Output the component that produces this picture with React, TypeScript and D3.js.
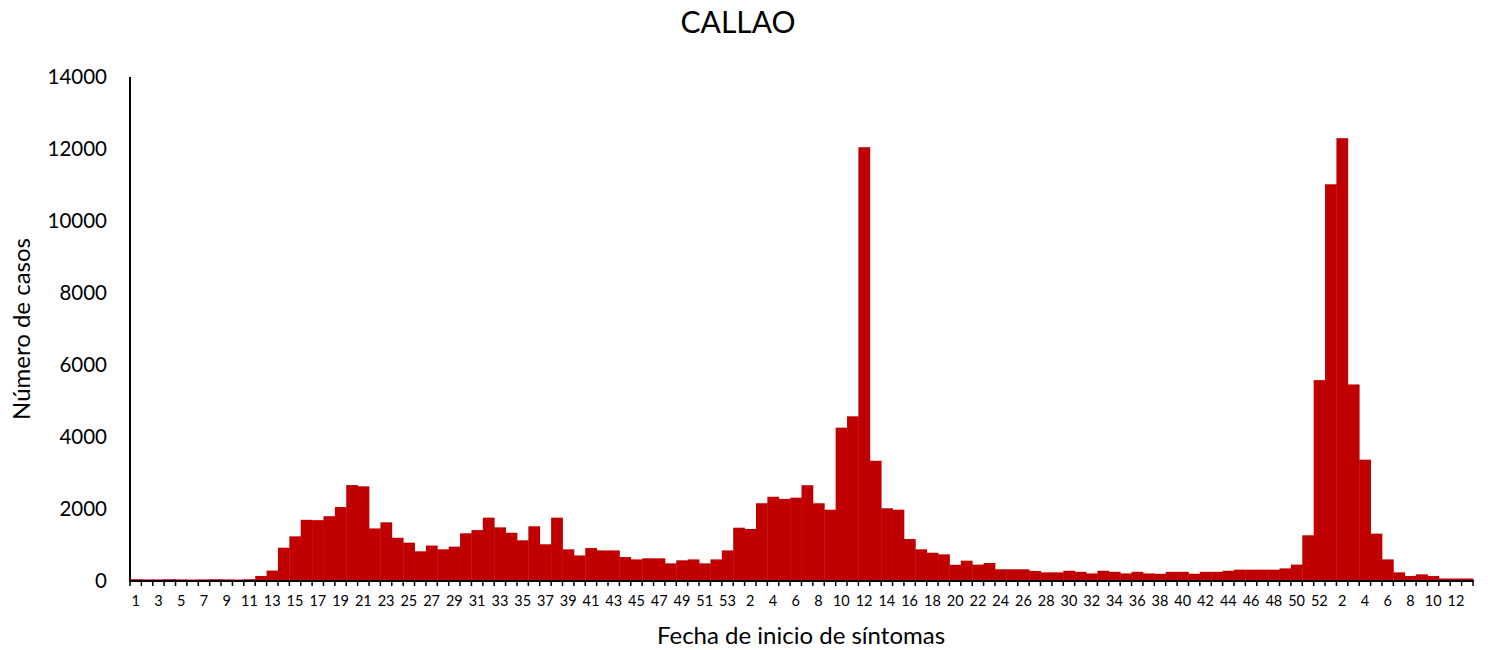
import * as d3 from 'd3';

// Weekly cases by epi week
const CASES_2020 = [
  50, 45, 45, 50, 45, 40, 45, 50, 45, 40, 50, 140, 290, 925, 1240, 1700, 1690, 1800, 2055, 2665,
  2630, 1460, 1630, 1200, 1065, 825, 985, 880, 955, 1325, 1415, 1760, 1490, 1340, 1130, 1520, 1020,
  1760, 880, 710, 915, 850, 850, 665, 600, 630, 630, 490, 575, 600, 490, 600, 850,
];
const CASES_2021 = [
  1480, 1445, 2160, 2340, 2280, 2315, 2660, 2160, 1980, 4260, 4575, 12050, 3340, 2020, 1980, 1165,
  880, 785, 740, 450, 565, 455, 500, 325, 325, 325, 280, 240, 240, 285, 255, 210, 285, 255, 210,
  255, 210, 200, 255, 255, 200, 255, 255, 285, 315, 315, 315, 315, 350, 455, 1270, 5580,
];
const CASES_2022 = [11020, 12300, 5460, 3370, 1315, 600, 240, 140, 185, 140, 70, 70, 70];

const Y_TICKS = [0, 2000, 4000, 6000, 8000, 10000, 12000, 14000];

const TITLE = 'CALLAO';
const Y_LABEL = 'Número de casos';
const X_LABEL = 'Fecha de inicio de síntomas';

const WIDTH = 1488;
const HEIGHT = 650;
const MARGIN = { top: 77, right: 15, bottom: 69, left: 130 };
const FONT = 'Lato, "Open Sans", sans-serif';
const BAR_COLOR = '#c00000';

interface WeekDatum {
  key: string;
  year: number;
  week: number;
  cases: number;
}

const weeks: WeekDatum[] = [
  ...CASES_2020.map((cases, i) => ({ key: `2020-${i + 1}`, year: 2020, week: i + 1, cases })),
  ...CASES_2021.map((cases, i) => ({ key: `2021-${i + 1}`, year: 2021, week: i + 1, cases })),
  ...CASES_2022.map((cases, i) => ({ key: `2022-${i + 1}`, year: 2022, week: i + 1, cases })),
];

// 2020 labels odd weeks, later years label even weeks
const showLabel = (d: WeekDatum) => (d.year === 2020 ? d.week % 2 === 1 : d.week % 2 === 0);

export default function App() {
  const x0 = MARGIN.left;
  const x1 = WIDTH - MARGIN.right;
  const yBase = HEIGHT - MARGIN.bottom;

  const xScale = d3
    .scaleBand<string>()
    .domain(weeks.map((d) => d.key))
    .range([x0, x1])
    .padding(0);
  const yScale = d3.scaleLinear().domain([0, 14000]).range([yBase, MARGIN.top]);
  const bw = xScale.bandwidth();

  const boundaries = d3.range(weeks.length + 1).map((i) => x0 + i * bw);

  return (
    <svg
      width={WIDTH}
      height={HEIGHT}
      viewBox={`0 0 ${WIDTH} ${HEIGHT}`}
      style={{ position: 'absolute', left: 0, top: 0, background: '#fff' }}
      fontFamily={FONT}
    >
      <rect width={WIDTH} height={HEIGHT} fill="#fff" />

      <text x={738} y={33} textAnchor="middle" fontSize={30} fill="#000">
        {TITLE}
      </text>

      {/* bars */}
      <g>
        {weeks.map((d) => (
          <rect
            key={d.key}
            x={xScale(d.key)!}
            y={yScale(d.cases)}
            width={bw + 0.4}
            height={yBase - yScale(d.cases)}
            fill={BAR_COLOR}
          />
        ))}
      </g>

      {/* y axis */}
      <line x1={x0} x2={x0} y1={MARGIN.top} y2={yBase + 1} stroke="#000" strokeWidth={2} />
      {Y_TICKS.map((t) => (
        <text
          key={t}
          x={107}
          y={yScale(t) + 7}
          textAnchor="end"
          fontSize={20.5}
          fill="#000"
        >
          {t}
        </text>
      ))}
      <text
        transform={`translate(30, ${(MARGIN.top + yBase) / 2}) rotate(-90)`}
        textAnchor="middle"
        fontSize={24}
        fill="#000"
      >
        {Y_LABEL}
      </text>

      {/* x axis */}
      <line x1={x0 - 1} x2={x1 + 1} y1={yBase} y2={yBase} stroke="#000" strokeWidth={2} />
      {boundaries.map((bx, i) => (
        <line key={i} x1={bx} x2={bx} y1={yBase} y2={yBase + 5} stroke="#000" strokeWidth={1.5} />
      ))}
      {weeks.filter(showLabel).map((d) => (
        <text
          key={d.key}
          x={xScale(d.key)! + bw / 2}
          y={yBase + 25}
          textAnchor="middle"
          fontSize={14.5}
          fill="#000"
        >
          {d.week}
        </text>
      ))}
      <text x={801} y={644} textAnchor="middle" fontSize={24} fill="#000">
        {X_LABEL}
      </text>
    </svg>
  );
}
